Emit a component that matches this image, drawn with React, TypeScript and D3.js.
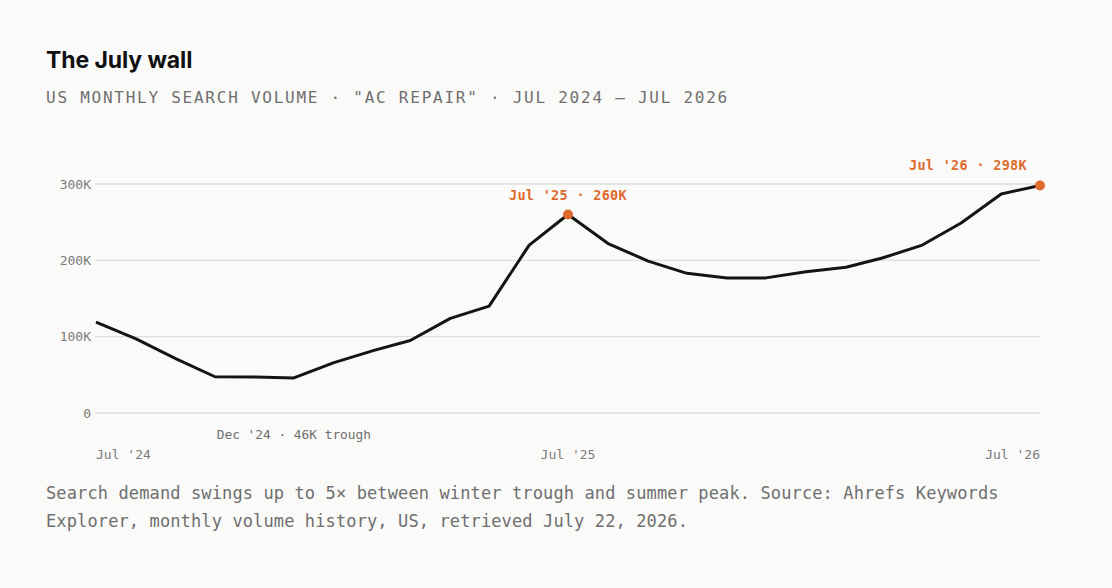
import React from 'react'
import * as d3 from 'd3'

// monthly search volume, Jul 2024 .. Jul 2026
const months = [
  '2024-07', '2024-08', '2024-09', '2024-10', '2024-11', '2024-12',
  '2025-01', '2025-02', '2025-03', '2025-04', '2025-05', '2025-06',
  '2025-07', '2025-08', '2025-09', '2025-10', '2025-11', '2025-12',
  '2026-01', '2026-02', '2026-03', '2026-04', '2026-05', '2026-06', '2026-07',
]
const volume = [
  119, 97, 71, 47.5, 47, 46,
  66, 82, 95, 124, 140, 220,
  260, 222, 199, 183, 177, 177,
  185, 191, 203, 220, 249, 287, 298,
]
const yTicks = [0, 100, 200, 300]
const xTickMonths = ['2024-07', '2025-07', '2026-07']
const xTickLabels = ["Jul '24", "Jul '25", "Jul '26"]

const W = 1112
const H = 588
const mono = '"DejaVu Sans Mono", "Liberation Mono", monospace'
const sans = 'Inter, "Noto Sans", sans-serif'
const orange = '#de6a2f'

const parse = d3.timeParse('%Y-%m')
const data = months.map((m, i) => ({ date: parse(m) as Date, v: volume[i] }))

export default function App() {
  const x = d3.scaleTime()
    .domain(d3.extent(data, d => d.date) as [Date, Date])
    .range([96, 1040])
  const y = d3.scaleLinear().domain([0, 300]).range([413, 184])

  const line = d3.line<{ date: Date; v: number }>()
    .x(d => x(d.date))
    .y(d => y(d.v))

  const peak = data[12]
  const last = data[data.length - 1]
  const trough = data[5]

  return (
    <div style={{ position: 'fixed', left: 0, top: 0, width: W, height: H, background: '#fafaf8' }}>
      <svg width={W} height={H}>
        <rect width={W} height={H} fill="#fafaf8" />
        <text x={46} y={68} fontFamily={sans} fontWeight={700} fontSize={23} letterSpacing={-0.1} fill="#111">
          The July wall
        </text>
        <text x={46} y={103} fontFamily={mono} fontSize={16} letterSpacing={1.75} fill="#6f6f6f">
          US MONTHLY SEARCH VOLUME · "AC REPAIR" · JUL 2024 – JUL 2026
        </text>

        {yTicks.map(t => (
          <g key={t}>
            <line x1={95} x2={1040} y1={y(t)} y2={y(t)} stroke="#dedede" strokeWidth={1.3} />
            <text x={91} y={y(t)} dy="0.35em" textAnchor="end" fontFamily={mono} fontSize={13} fill="#7a7a7a">
              {t === 0 ? '0' : `${t}K`}
            </text>
          </g>
        ))}

        {xTickMonths.map((m, i) => (
          <text
            key={m}
            x={x(parse(m) as Date)}
            y={459}
            textAnchor={i === 0 ? 'start' : i === xTickMonths.length - 1 ? 'end' : 'middle'}
            fontFamily={mono}
            fontSize={13}
            fill="#7a7a7a"
          >
            {xTickLabels[i]}
          </text>
        ))}

        <path d={line(data) ?? ''} fill="none" stroke="#141414" strokeWidth={3} strokeLinejoin="round" />

        <circle cx={x(peak.date)} cy={y(peak.v)} r={5} fill={orange} />
        <circle cx={x(last.date)} cy={y(last.v)} r={5} fill={orange} />

        <text x={x(peak.date)} y={y(peak.v) - 15} textAnchor="middle" fontFamily={mono} fontWeight={700} fontSize={13.5} letterSpacing={0.3} fill={orange}>
          Jul '25 · {peak.v}K
        </text>
        <text x={x(last.date) - 13} y={y(last.v) - 16} textAnchor="end" fontFamily={mono} fontWeight={700} fontSize={13.5} letterSpacing={0.3} fill={orange}>
          Jul '26 · {last.v}K
        </text>
        <text x={x(trough.date)} y={439} textAnchor="middle" fontFamily={mono} fontSize={12.8} fill="#6f6f6f">
          Dec '24 · {trough.v}K trough
        </text>

        <text fontFamily={mono} fontSize={17} letterSpacing={0.12} fill="#6f6f6f">
          <tspan x={46} y={499}>Search demand swings up to 5× between winter trough and summer peak. Source: Ahrefs Keywords</tspan>
          <tspan x={46} y={527}>Explorer, monthly volume history, US, retrieved July 22, 2026.</tspan>
        </text>
      </svg>
    </div>
  )
}
